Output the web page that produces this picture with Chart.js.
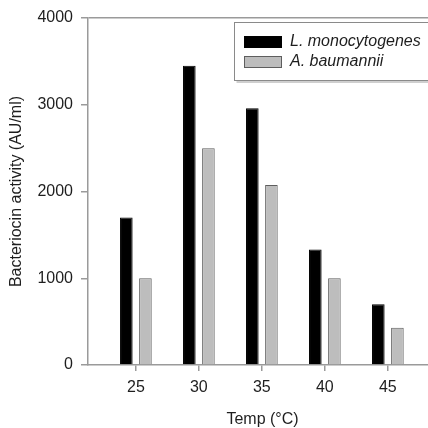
<!DOCTYPE html>
<html>
<head>
<meta charset="utf-8">
<style>
  html, body { margin: 0; padding: 0; background: #fff; overflow: hidden; }
  #wrap { width: 440px; height: 428px; }
</style>
<script src="https://cdn.jsdelivr.net/npm/chart.js@4.4.1/dist/chart.umd.min.js"></script>
</head>
<body>
<div id="wrap"><canvas id="tempChart" width="440" height="428"></canvas></div>
<script>
// Bacteriocin activity at different incubation temperatures

const temps = [25, 30, 35, 40, 45];
const listeriaValues = [1700, 3450, 2960, 1330, 700];
const acinetoValues = [1000, 2500, 2075, 1000, 430];
const seriesLabels = ['L. monocytogenes', 'A. baumannii'];
const yTicks = [0, 1000, 2000, 3000, 4000];

const FONT = "'Liberation Sans', Arial, sans-serif";
const AXIS_GREY = '#9a9a9a';
const TEXT = '#1e1e1e';

function toPoints(values) {
  return temps.map((t, i) => ({ x: t, y: values[i] }));
}

// boxed key in the upper right corner (runs off the right edge like the original)
const boxLegend = {
  id: 'boxLegend',
  afterDraw(chart) {
    const ctx = chart.ctx;
    const left = 234.5, top = 22.5, bottom = 80.5;
    ctx.save();
    // soft shadow under the box
    ctx.strokeStyle = '#cfcfcf';
    ctx.lineWidth = 2;
    ctx.beginPath();
    ctx.moveTo(left + 2, bottom + 1.5);
    ctx.lineTo(chart.width, bottom + 1.5);
    ctx.stroke();

    ctx.fillStyle = '#fff';
    ctx.fillRect(left, top, chart.width, bottom - top);
    ctx.strokeStyle = '#8a8a8a';
    ctx.lineWidth = 1;
    ctx.strokeRect(left, top, chart.width, bottom - top);

    chart.data.datasets.forEach((ds, i) => {
      const y = 36 + i * 20;
      ctx.fillStyle = ds.backgroundColor;
      ctx.fillRect(244, y, 38, 12);
      ctx.strokeStyle = ds.borderColor;
      ctx.strokeRect(244.5, y + 0.5, 37, 11);
      ctx.fillStyle = TEXT;
      ctx.font = 'italic 16px ' + FONT;
      ctx.textBaseline = 'middle';
      ctx.textAlign = 'left';
      ctx.fillText(ds.label, 290, y + 6);
    });
    ctx.restore();
  }
};

const ctx = document.getElementById('tempChart');

new Chart(ctx, {
  type: 'bar',
  data: {
    datasets: [
      {
        label: seriesLabels[0],
        data: toPoints(listeriaValues),
        backgroundColor: '#000000',
        borderColor: '#000000',
        borderWidth: 1
      },
      {
        label: seriesLabels[1],
        data: toPoints(acinetoValues),
        backgroundColor: '#bdbdbd',
        borderColor: '#5e5e5e',
        borderWidth: 1
      }
    ]
  },
  options: {
    responsive: false,
    animation: false,
    categoryPercentage: 0.606,
    barPercentage: 0.66,
    layout: { padding: { left: 0, top: 18, right: 3, bottom: 0 } },
    plugins: {
      legend: { display: false },
      tooltip: { enabled: false }
    },
    scales: {
      x: {
        type: 'linear',
        min: 21.2,
        max: 48.9,
        offset: false,
        afterBuildTicks: s => { s.ticks = temps.map(v => ({ value: v })); },
        afterFit: s => { s.height = 63; },
        grid: { offset: false, drawOnChartArea: false, tickLength: 6, tickColor: AXIS_GREY, lineWidth: 1.5 },
        border: { color: AXIS_GREY, width: 1.5 },
        ticks: {
          color: TEXT,
          font: { family: FONT, size: 16 },
          padding: 7,
          maxRotation: 0,
          autoSkip: false,
          callback: v => String(v)
        },
        title: {
          display: true,
          text: 'Temp (°C)',
          color: TEXT,
          font: { family: FONT, size: 16, lineHeight: 1 },
          padding: { top: 0, bottom: 0 }
        }
      },
      y: {
        min: 0,
        max: 4000,
        afterBuildTicks: s => { s.ticks = yTicks.map(v => ({ value: v })); },
        afterFit: s => { s.width = 88; },
        grid: {
          // only the top frame line at 4000 shows inside the plot
          color: c => (c.tick && c.tick.value === 4000) ? AXIS_GREY : 'rgba(0,0,0,0)',
          tickColor: AXIS_GREY,
          lineWidth: 1.5,
          tickLength: 7
        },
        border: { color: AXIS_GREY, width: 1.5 },
        ticks: {
          color: TEXT,
          font: { family: FONT, size: 16 },
          padding: 8,
          callback: v => String(v)
        },
        title: {
          display: true,
          text: 'Bacteriocin activity (AU/ml)',
          color: TEXT,
          font: { family: FONT, size: 16, lineHeight: 1.2 },
          padding: { top: 7.4, bottom: 0 }
        }
      }
    }
  },
  plugins: [boxLegend]
});
</script>
</body>
</html>
